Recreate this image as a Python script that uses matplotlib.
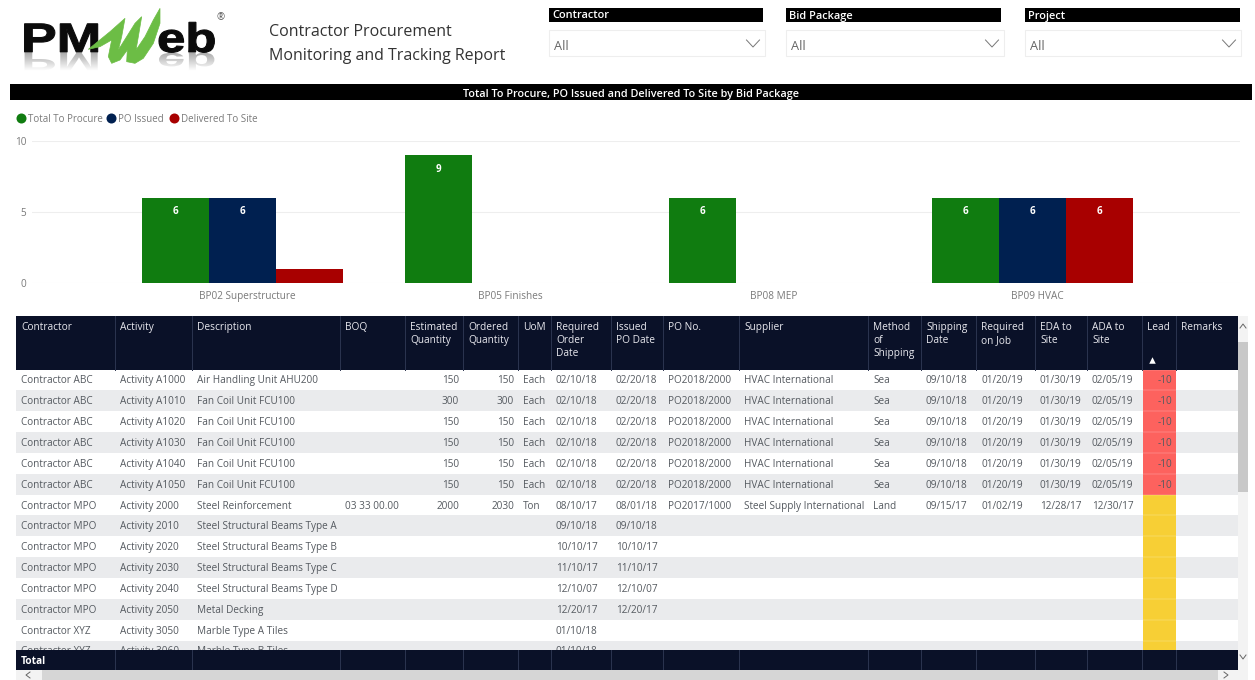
#!/usr/bin/env python3
"""Contractor procurement dashboard: slicers, bid package bars and a tracking table."""

import matplotlib
matplotlib.use("Agg")
import matplotlib.pyplot as plt
import numpy as np
from matplotlib.font_manager import FontProperties
from matplotlib.patches import PathPatch, Polygon, Rectangle
from matplotlib.textpath import TextPath
from matplotlib.transforms import Affine2D, ScaledTranslation

plt.rcParams["font.family"] = ["Open Sans", "DejaVu Sans"]

W, H = 1255, 680

# Chart data
packages = ["BP02 Superstructure", "BP05 Finishes", "BP08 MEP", "BP09 HVAC"]
total_to_procure = [6, 9, 6, 6]
po_issued = [6, 0, 0, 6]
delivered = [1, 0, 0, 6]
series_names = ["Total To Procure", "PO Issued", "Delivered To Site"]
series_colors = ["#107c10", "#002050", "#a80000"]

# Slicers
slicer_names = ["Contractor", "Bid Package", "Project"]

# Table data
headers = ["Contractor", "Activity", "Description", "BOQ", "Estimated\nQuantity",
           "Ordered\nQuantity", "UoM", "Required\nOrder\nDate", "Issued\nPO Date",
           "PO No.", "Supplier", "Method\nof\nShipping", "Shipping\nDate",
           "Required\non Job", "EDA to\nSite", "ADA to\nSite", "Lead", "Remarks"]
contractors = ["Contractor ABC"] * 6 + ["Contractor MPO"] * 6 + ["Contractor XYZ"] * 2
activities = ["Activity A1000", "Activity A1010", "Activity A1020", "Activity A1030",
              "Activity A1040", "Activity A1050", "Activity 2000", "Activity 2010",
              "Activity 2020", "Activity 2030", "Activity 2040", "Activity 2050",
              "Activity 3050", "Activity 3060"]
descriptions = ["Air Handling Unit AHU200"] + ["Fan Coil Unit FCU100"] * 5 + [
    "Steel Reinforcement", "Steel Structural Beams Type A", "Steel Structural Beams Type B",
    "Steel Structural Beams Type C", "Steel Structural Beams Type D", "Metal Decking",
    "Marble Type A Tiles", "Marble Type B Tiles"]
boq = [""] * 6 + ["03 33 00.00"] + [""] * 7
estimated = ["150", "300", "150", "150", "150", "150", "2000"] + [""] * 7
ordered = ["150", "300", "150", "150", "150", "150", "2030"] + [""] * 7
uom = ["Each"] * 6 + ["Ton"] + [""] * 7
required_order = ["02/10/18"] * 6 + ["08/10/17", "09/10/18", "10/10/17", "11/10/17",
                                     "12/10/07", "12/20/17", "01/10/18", "01/10/18"]
issued_po = ["02/20/18"] * 6 + ["08/01/18", "09/10/18", "10/10/17", "11/10/17",
                                "12/10/07", "12/20/17", "", ""]
po_no = ["PO2018/2000"] * 6 + ["PO2017/1000"] + [""] * 7
supplier = ["HVAC International"] * 6 + ["Steel Supply International"] + [""] * 7
shipping = ["Sea"] * 6 + ["Land"] + [""] * 7
shipping_date = ["09/10/18"] * 6 + ["09/15/17"] + [""] * 7
required_job = ["01/20/19"] * 6 + ["01/02/19"] + [""] * 7
eda = ["01/30/19"] * 6 + ["12/28/17"] + [""] * 7
ada = ["02/05/19"] * 6 + ["12/30/17"] + [""] * 7
lead = ["-10"] * 6 + [""] * 8
remarks = [""] * 14

columns = [contractors, activities, descriptions, boq, estimated, ordered, uom,
           required_order, issued_po, po_no, supplier, shipping, shipping_date,
           required_job, eda, ada, lead, remarks]

col_edges = [16, 115, 192, 340, 405, 463, 518, 551, 611, 663, 739, 868, 921, 976,
             1035, 1087, 1142, 1176, 1238]
right_aligned = {4, 5, 16}

NAVY = "#0a1128"
TEXT = "#555a60"
ROW_GREY = "#eaebed"
TEXT_DY = 1.0  # Open Sans sits a little high with va="center"

fig = plt.figure(figsize=(W / 100, H / 100), dpi=100, facecolor="white")

# Page axes in pixel coordinates, for everything that is not the chart
page = fig.add_axes([0, 0, 1, 1])
page.axis("off")

# Logo, drawn as outlines because the letters are stretched
bold = FontProperties(family="Liberation Sans", weight="bold")
for txt, x, sx in [("PM", 21, 1.07), ("eb", 157, 1.02)]:
    tp = TextPath((0, 0), txt, size=50, prop=bold)
    page.add_patch(PathPatch(tp, transform=Affine2D().scale(sx, -0.82).translate(x, 52) + page.transData,
                             fc="#0b0b0b", ec="#0b0b0b", lw=0.8, zorder=3))
    refl = PathPatch(tp, transform=Affine2D().scale(sx, 0.5).translate(x, 53) + page.transData,
                     fc="none", ec="none")
    page.add_patch(refl)
    im = page.imshow(np.linspace(0.68, 1, 32)[:, None], cmap="gray", vmin=0, vmax=1,
                     extent=(x, x + 110, 71, 53), aspect="auto", zorder=2)
    im.set_clip_path(refl)

w_outline = [(235, 148), (300, 95), (345, 55), (335, 110), (325, 150), (375, 70), (395, 50),
             (385, 110), (378, 150), (405, 110), (430, 60), (450, 25), (450, 70), (430, 130),
             (400, 175), (375, 190), (350, 185), (352, 150), (330, 180), (305, 190),
             (295, 170), (305, 120), (270, 140)]
page.add_patch(Polygon([(px / 3 + 10, py / 3) for px, py in w_outline], closed=True,
                       fc="#6cbd45", ec="#6cbd45", lw=0.5, zorder=4))
page.text(221, 18, "®", fontsize=7, color="#555555", ha="center", va="center")

# Report title
page.text(269, 32, "Contractor Procurement", fontsize=11.5, color="#333333", va="center")
page.text(269, 56, "Monitoring and Tracking Report", fontsize=11.5, color="#333333", va="center")

# Slicers
for name, x0, bar_w, box_w in zip(slicer_names, [549, 786, 1025], [214, 215, 215], [216, 218, 216]):
    page.add_patch(Rectangle((x0, 8), bar_w, 14, fc="black", ec="none"))
    page.text(x0 + 3, 16, name, fontsize=7.9, color="white", weight="semibold", va="center")
    page.add_patch(Rectangle((x0, 30), box_w, 26, fc="white", ec="#eeeeee", lw=0.8))
    page.text(x0 + 5, 46.5, "All", fontsize=9.2, color="#666666", va="center")
    cx = x0 + box_w - 12
    page.plot([cx - 6.5, cx, cx + 6.5], [40, 47, 40], color="#777777", lw=0.7)

# Chart title band
page.add_patch(Rectangle((10, 84), 1242, 16, fc="black", ec="none"))
page.text(631, 94, "Total To Procure, PO Issued and Delivered To Site by Bid Package",
          fontsize=7.8, color="white", weight="semibold", ha="center", va="center")

# Legend
for name, col, cx, tx in zip(series_names, series_colors, [21, 111, 174], [28, 118, 181]):
    page.scatter([cx], [118], s=52, color=col, linewidths=0)
    page.text(tx, 120, name, fontsize=7, color="#7a7a7a", va="center")

# Chart
chart = fig.add_axes([32 / W, 1 - 283 / H, (1240 - 32) / W, 142 / H])
chart.patch.set_alpha(0)
xpos = np.arange(len(packages))
bar_w = 67 / 263.5
for i, (vals, col) in enumerate(zip([total_to_procure, po_issued, delivered], series_colors)):
    bars = chart.bar(xpos + (i - 1) * bar_w, vals, bar_w, color=col, zorder=3)
    for rect, v in zip(bars, vals):
        if v > 1:
            chart.annotate(str(v), (rect.get_x() + rect.get_width() / 2, v), xytext=(0, -14),
                           textcoords="offset pixels", ha="center", va="center", color="white",
                           fontsize=7, weight="bold", zorder=4)
chart.set_xlim((32 - 242) / 263.5, (1240 - 242) / 263.5)
chart.set_ylim(0, 10)
chart.set_yticks([0, 5, 10])
chart.set_xticks(xpos, packages)
chart.tick_params(length=0, labelsize=7.2, labelcolor="#7a7a7a")
chart.tick_params(axis="y", pad=4)
chart.tick_params(axis="x", pad=6)
chart.grid(axis="y", color="#eeeeee", lw=0.8, zorder=0)
for s in chart.spines.values():
    s.set_visible(False)
# Category labels sit a few pixels right of the group centre
for label in chart.get_xticklabels():
    label.set_transform(label.get_transform() + ScaledTranslation(5 / 100, 0, fig.dpi_scale_trans))

# Table body
ROW_H = 20.85
ROW_TOP = 369.5
n_rows = len(contractors)
for r in range(n_rows):
    y = ROW_TOP + r * ROW_H
    page.add_patch(Rectangle((16, y), 1222, ROW_H, fc="white" if r % 2 == 0 else ROW_GREY,
                             ec="none", zorder=1))
    lead_col = "#fd625e" if lead[r] else "#f7cf35"
    page.add_patch(Rectangle((1143, y), 33, ROW_H, fc=lead_col, ec="none", zorder=1.5))
    page.plot([1143, 1176], [y, y], color="white", lw=0.3, alpha=0.5, zorder=1.6)
    for c, col_vals in enumerate(columns):
        val = col_vals[r]
        if not val:
            continue
        if c in right_aligned:
            page.text(col_edges[c + 1] - 4, y + ROW_H / 2 + TEXT_DY, val, fontsize=7.2, color=TEXT,
                      ha="right", va="center", zorder=2)
        else:
            page.text(col_edges[c] + 5, y + ROW_H / 2 + TEXT_DY, val, fontsize=7.2, color=TEXT,
                      ha="left", va="center", zorder=2)

# Table header and total row
page.add_patch(Rectangle((16, 316), 1222, 53.5, fc=NAVY, ec="none", zorder=5))
page.add_patch(Rectangle((16, 650), 1222, 20, fc=NAVY, ec="none", zorder=5))
for c, name in enumerate(headers):
    for k, line in enumerate(name.split("\n")):
        page.text(col_edges[c] + 5, 327.5 + k * 13, line, fontsize=7.3, color="#e8e8ee",
                  va="center", zorder=6)
for x in col_edges[1:-1]:
    page.plot([x, x], [316, 369.5], color="#2c3550", lw=0.7, zorder=6)
    page.plot([x, x], [650, 670], color="#2c3550", lw=0.7, zorder=6)
page.scatter([1152], [360], marker="^", s=22, color="white", linewidths=0, zorder=6)
page.text(21, 662, "Total", fontsize=7.3, color="white", weight="bold", va="center", zorder=6)

# Scrollbars
page.add_patch(Rectangle((1238, 316), 10, 354, fc="#f3f3f3", ec="none", zorder=5))
page.add_patch(Rectangle((1238, 342), 10, 150, fc="#c8c8c8", ec="none", zorder=6))
page.add_patch(Rectangle((16, 670), 1232, 10, fc="#f3f3f3", ec="none", zorder=5))
page.add_patch(Rectangle((42, 670), 1176, 10, fc="#d6d6d6", ec="none", zorder=6))
page.plot([1240, 1243, 1246], [328, 324, 328], color="#666666", lw=0.7, zorder=7)
page.plot([1240, 1243, 1246], [655, 659, 655], color="#666666", lw=0.7, zorder=7)
page.plot([30, 26, 30], [672, 675, 678], color="#666666", lw=0.7, zorder=7)
page.plot([1224, 1228, 1224], [672, 675, 678], color="#666666", lw=0.7, zorder=7)

# imshow and plot move the limits, so fix the pixel frame last
page.set_xlim(0, W)
page.set_ylim(H, 0)
page.set_aspect("auto")

fig.savefig("out.png", dpi=100)
